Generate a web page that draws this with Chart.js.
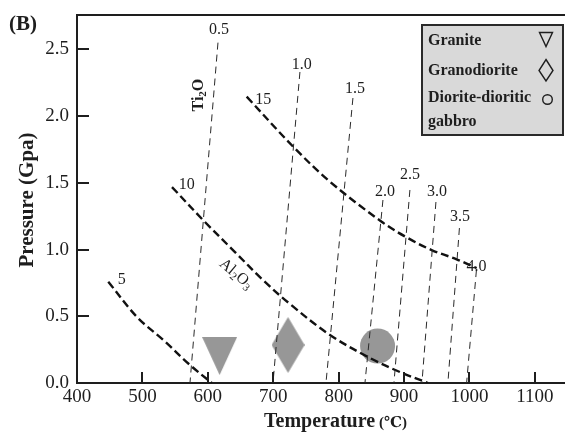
<!DOCTYPE html>
<html lang="en">
<head>
<meta charset="UTF-8">
<title>P-T diagram (B)</title>
<script src="https://cdn.jsdelivr.net/npm/chart.js"></script>
<style>
  body { margin: 0; background: #fff; }
  #wrap { width: 565px; height: 432px; }
</style>
</head>
<body>
<div id="wrap"><canvas id="ptChart" width="565" height="432"></canvas></div>
<script>
// axes
const xTicks = [400, 500, 600, 700, 800, 900, 1000, 1100];
const yTicks = [0, 0.5, 1.0, 1.5, 2.0, 2.5];

// Ti2O isopleths: value, upper end and lower end [T, P]
const ti2oValues = ['0.5', '1.0', '1.5', '2.0', '2.5', '3.0', '3.5', '4.0'];
const ti2oTop = [[615.5, 2.55], [740.8, 2.33], [821.8, 2.135], [867.7, 1.371],
                 [908.9, 1.446], [948.7, 1.356], [984.6, 1.161], [1010.6, 0.846]];
const ti2oBottom = [[572.7, 0], [699.6, 0], [780.6, 0], [840.2, 0],
                    [884.5, 0], [927.3, 0], [967.0, 0], [995.6, 0]];
const ti2oLabelAt = [[617, 2.644], [743.4, 2.382], [824.9, 2.207], [870.7, 1.433],
                     [908.9, 1.558], [950.2, 1.433], [985.4, 1.246], [1010.9, 0.869]];

// Al2O3 isopleths
const alValues = ['5', '10', '15'];
const al5 = [[447.8, 0.759], [491.2, 0.497], [531.9, 0.322], [572.7, 0.135], [606, 0]];
const al10 = [[545.2, 1.468], [595.6, 1.206], [641.5, 0.981], [682.7, 0.779], [725.5, 0.592],
              [786.7, 0.36], [847.8, 0.187], [893.7, 0.082], [936.5, 0]];
const al15 = [[659.4, 2.145], [730.6, 1.77], [786.7, 1.508], [865.7, 1.208], [903.9, 1.091],
              [942.1, 0.996], [980.3, 0.927], [1010.9, 0.861]];
const alLabelAt = [[468.3, 0.772], [567.7, 1.483], [684.7, 2.12]];

// rock samples
const rockNames = ['Granite', 'Granodiorite', 'Diorite-dioritic gabbro'];
const rockT = [618, 722.6, 859.5];
const rockP = [0.202, 0.285, 0.277];

const SERIF = "'Liberation Serif', 'DejaVu Serif', serif";
const INK = '#1e1e1e';
const MARK = '#979797';

function triImg(w, h) {
  const c = document.createElement('canvas');
  c.width = w; c.height = h;
  const g = c.getContext('2d');
  g.fillStyle = MARK;
  g.beginPath(); g.moveTo(0, 0); g.lineTo(w, 0); g.lineTo(w / 2, h); g.closePath(); g.fill();
  return c;
}
function diaImg(w, h) {
  const c = document.createElement('canvas');
  c.width = w; c.height = h;
  const g = c.getContext('2d');
  g.fillStyle = MARK;
  g.beginPath(); g.moveTo(w / 2, 0); g.lineTo(w, h / 2); g.lineTo(w / 2, h); g.lineTo(0, h / 2); g.closePath(); g.fill();
  return c;
}

const pts = arr => arr.map(p => ({x: p[0], y: p[1]}));

const datasets = [];
ti2oValues.forEach((v, i) => {
  datasets.push({
    label: 'Ti2O ' + v,
    data: pts([ti2oTop[i], ti2oBottom[i]]),
    showLine: true, borderColor: '#2a2a2a', borderWidth: 1, borderDash: [7, 5],
    pointRadius: 0
  });
});
[al5, al10, al15].forEach((curve, i) => {
  datasets.push({
    label: 'Al2O3 ' + alValues[i],
    data: pts(curve),
    showLine: true, borderColor: '#111', borderWidth: 2.4, borderDash: [8, 4],
    tension: 0.35, pointRadius: 0
  });
});
// samples drawn last in list -> underneath the lines
const rockStyles = [triImg(35, 38), diaImg(33, 56), 'circle'];
rockNames.forEach((n, i) => {
  datasets.push({
    label: n,
    data: [{x: rockT[i], y: rockP[i]}],
    pointStyle: rockStyles[i],
    pointRadius: i === 2 ? 17.5 : 10,
    backgroundColor: MARK, borderWidth: 0
  });
});

function subText(ctx, parts, x, y, angle, size, bold) {
  ctx.save();
  ctx.translate(x, y);
  ctx.rotate(angle);
  const w = bold ? 'bold ' : '';
  let total = 0;
  parts.forEach(p => {
    ctx.font = w + (p.sub ? Math.round(size * 0.7) : size) + 'px ' + SERIF;
    total += ctx.measureText(p.t).width;
  });
  let cx = -total / 2;
  ctx.textAlign = 'left';
  ctx.textBaseline = 'middle';
  parts.forEach(p => {
    ctx.font = w + (p.sub ? Math.round(size * 0.7) : size) + 'px ' + SERIF;
    ctx.fillText(p.t, cx, p.sub ? size * 0.25 : 0);
    cx += ctx.measureText(p.t).width;
  });
  ctx.restore();
}

const decor = {
  id: 'decor',
  beforeDraw(chart) {
    const c = chart.ctx;
    c.save(); c.fillStyle = '#fff'; c.fillRect(0, 0, chart.width, chart.height); c.restore();
  },
  afterDraw(chart) {
    const c = chart.ctx;
    const xs = chart.scales.x, ys = chart.scales.y;
    const a = chart.chartArea;
    c.save();
    c.strokeStyle = INK;
    c.lineWidth = 2;
    // top frame
    c.beginPath(); c.moveTo(a.left - 1, a.top); c.lineTo(a.right, a.top); c.stroke();
    // inward ticks
    xTicks.forEach(v => {
      const px = Math.round(xs.getPixelForValue(v));
      c.beginPath(); c.moveTo(px, a.bottom); c.lineTo(px, a.bottom - 11); c.stroke();
    });
    yTicks.forEach(v => {
      const py = Math.round(ys.getPixelForValue(v));
      c.beginPath(); c.moveTo(a.left, py); c.lineTo(a.left + 12, py); c.stroke();
    });

    // isopleth numbers
    c.fillStyle = INK;
    c.font = '16px ' + SERIF;
    c.textAlign = 'center';
    c.textBaseline = 'middle';
    ti2oValues.forEach((v, i) => {
      c.fillText(v, xs.getPixelForValue(ti2oLabelAt[i][0]), ys.getPixelForValue(ti2oLabelAt[i][1]));
    });
    alValues.forEach((v, i) => {
      c.fillText(v, xs.getPixelForValue(alLabelAt[i][0]), ys.getPixelForValue(alLabelAt[i][1]));
    });
    subText(c, [{t: 'Ti'}, {t: '2', sub: true}, {t: 'O'}],
      xs.getPixelForValue(586.5), ys.getPixelForValue(2.157), -Math.PI / 2, 16, true);
    subText(c, [{t: 'Al'}, {t: '2', sub: true}, {t: 'O'}, {t: '3', sub: true}],
      xs.getPixelForValue(643), ys.getPixelForValue(0.816), 0.70, 16, false);

    // legend box
    c.fillStyle = '#d9d9d9';
    c.fillRect(422, 25, 141, 110);
    c.strokeStyle = '#2a2a2a';
    c.lineWidth = 2;
    c.strokeRect(422, 25, 141, 110);
    c.fillStyle = INK;
    c.font = 'bold 16px ' + SERIF;
    c.textAlign = 'left';
    c.textBaseline = 'alphabetic';
    c.fillText(rockNames[0], 428, 45);
    c.fillText(rockNames[1], 428, 75);
    const parts = rockNames[2].split(' ');
    c.fillText(parts[0], 428, 102);
    c.fillText(parts[1], 428, 126);
    c.lineWidth = 1.4;
    c.strokeStyle = INK;
    c.beginPath(); c.moveTo(539.5, 32.5); c.lineTo(552.5, 32.5); c.lineTo(546, 46.5); c.closePath(); c.stroke();
    c.beginPath(); c.moveTo(546, 59.5); c.lineTo(553, 70.5); c.lineTo(546, 81); c.lineTo(539, 70.5); c.closePath(); c.stroke();
    c.beginPath(); c.arc(547.5, 99.5, 4.8, 0, Math.PI * 2); c.stroke();

    // titles
    c.fillStyle = INK;
    c.font = 'bold 21px ' + SERIF;
    c.fillText('(B)', 9, 30);
    c.font = 'bold 20px ' + SERIF;
    c.textAlign = 'left';
    c.fillText('Temperature', 264, 427);
    const tw = c.measureText('Temperature').width;
    c.font = 'bold 15px ' + SERIF;
    c.fillText('(\u2103)', 264 + tw + 4, 427);
    c.save();
    c.translate(33, 200);
    c.rotate(-Math.PI / 2);
    c.font = 'bold 21px ' + SERIF;
    c.textAlign = 'center';
    c.fillText('Pressure (Gpa)', 0, 0);
    c.restore();
    c.restore();
  }
};

new Chart(document.getElementById('ptChart'), {
  type: 'scatter',
  data: {datasets},
  options: {
    responsive: false,
    animation: false,
    events: [],
    layout: {autoPadding: false, padding: {top: 15, right: 0, left: 0, bottom: 0}},
    plugins: {legend: {display: false}, tooltip: {enabled: false}},
    scales: {
      x: {
        type: 'linear', min: 400, max: 1146,
        afterBuildTicks: s => { s.ticks = xTicks.map(v => ({value: v})); },
        afterFit: s => { s.height = 49; s.paddingLeft = 0; s.paddingRight = 0; },
        grid: {display: false, drawTicks: false},
        border: {display: true, color: INK, width: 2},
        ticks: {color: INK, padding: 3, maxRotation: 0, autoSkip: false,
                font: {family: SERIF, size: 19},
                callback: v => String(v)}
      },
      y: {
        type: 'linear', min: 0, max: 2.757,
        afterBuildTicks: s => { s.ticks = yTicks.map(v => ({value: v})); },
        afterFit: s => { s.width = 77; s.paddingTop = 0; s.paddingBottom = 0; },
        grid: {display: false, drawTicks: false},
        border: {display: true, color: INK, width: 2},
        ticks: {color: INK, padding: 8, autoSkip: false,
                font: {family: SERIF, size: 19},
                callback: v => v.toFixed(1)}
      }
    }
  },
  plugins: [decor]
});
</script>
</body>
</html>
